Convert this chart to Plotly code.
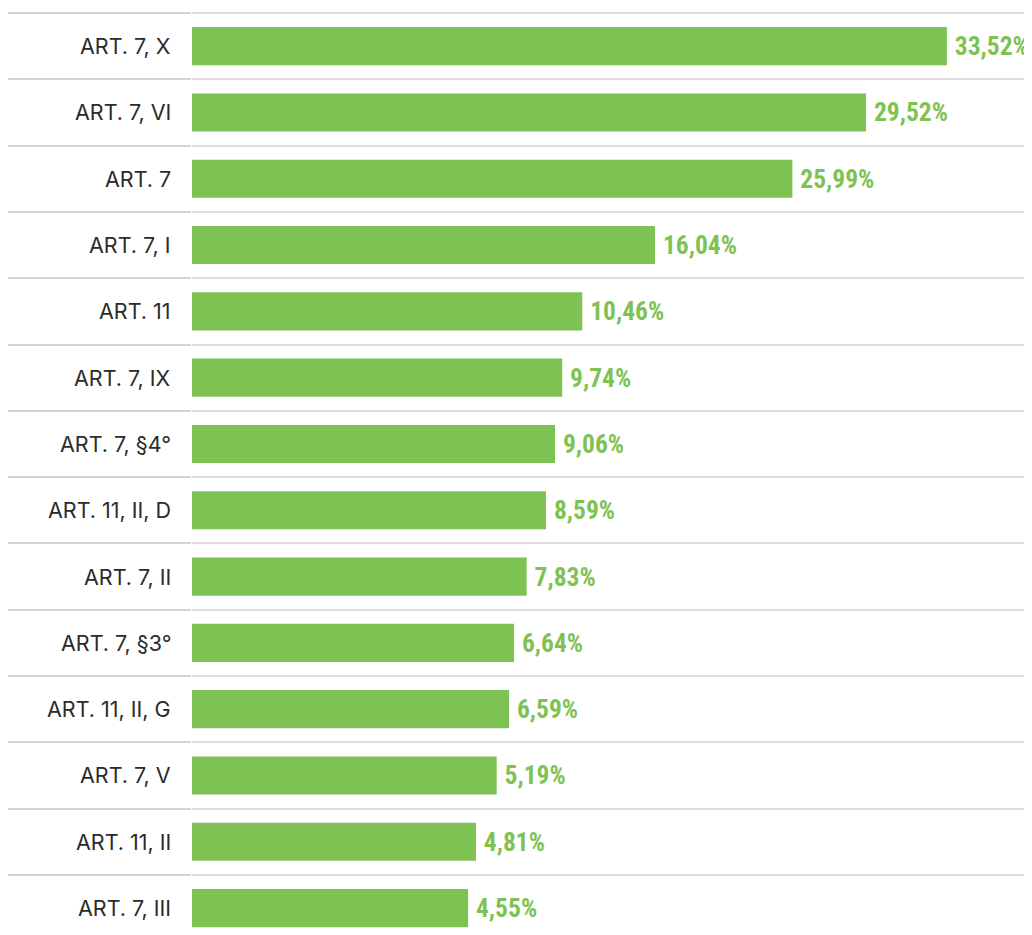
import plotly.graph_objects as go

# categories, top to bottom
artigos = ["ART. 7, X", "ART. 7, VI", "ART. 7", "ART. 7, I", "ART. 11",
           "ART. 7, IX", "ART. 7, §4°", "ART. 11, II, D", "ART. 7, II",
           "ART. 7, §3°", "ART. 11, II, G", "ART. 7, V", "ART. 11, II", "ART. 7, III"]

# percentages printed next to the bars
percentuais = [33.52, 29.52, 25.99, 16.04, 10.46, 9.74, 9.06, 8.59, 7.83,
               6.64, 6.59, 5.19, 4.81, 4.55]

# bar lengths as drawn in the original (they don't follow the printed %)
comprimentos = [33.52, 29.93, 26.66, 20.56, 17.33, 16.44, 16.12, 15.72, 14.86,
                14.30, 14.08, 13.53, 12.61, 12.26]

VERDE = "#7fc254"
FONTE_NUM = ("Noto Sans ExtraCondensed, Roboto Condensed, Noto Sans Condensed, "
             "Liberation Sans Narrow, DejaVu Sans Condensed, sans-serif")

rotulos = ["\u2009" + ("%.2f" % v).replace(".", ",") + "%" for v in percentuais]

fig = go.Figure()
fig.add_trace(go.Bar(
    x=comprimentos, y=artigos, orientation="h",
    marker=dict(color=VERDE, line=dict(width=0)),
    width=0.575,
    text=rotulos, textposition="outside", cliponaxis=False,
    constraintext="none",
    textfont=dict(family=FONTE_NUM, size=25.5, color=VERDE, weight="bold"),
    hoverinfo="skip",
))

# category labels on the left
for a in artigos:
    fig.add_annotation(x=0, xref="paper", y=a, yref="y", text=a,
                       showarrow=False, xanchor="right", xshift=-19,
                       font=dict(family="Inter, Roboto, sans-serif", size=21.5, color="#2b2b2b"))

# separators: boundary ticks (label column) + boundary gridlines (bar area)
fig.update_yaxes(
    type="category", categoryorder="array", categoryarray=artigos,
    range=[13.406, -0.53],  # a bit of room so the top gridline isn't dropped at the edge
    tickson="boundaries", ticks="outside", ticklen=183, tickwidth=2, tickcolor="#d3d3d3",
    showticklabels=False,
    showgrid=True, gridcolor="#dddddd", gridwidth=2,
    showline=False, zeroline=False,
)
fig.update_xaxes(range=[0, 37.3], visible=False, showgrid=False, zeroline=False)

# page has an 8px body margin, so the figure is 8px smaller and margins shifted
fig.update_layout(
    width=1024, height=927,
    margin=dict(l=184, r=0, t=3, b=0),
    paper_bgcolor="white", plot_bgcolor="white",
    showlegend=False,
    bargap=0.4,
)

fig.write_html("out.html")
